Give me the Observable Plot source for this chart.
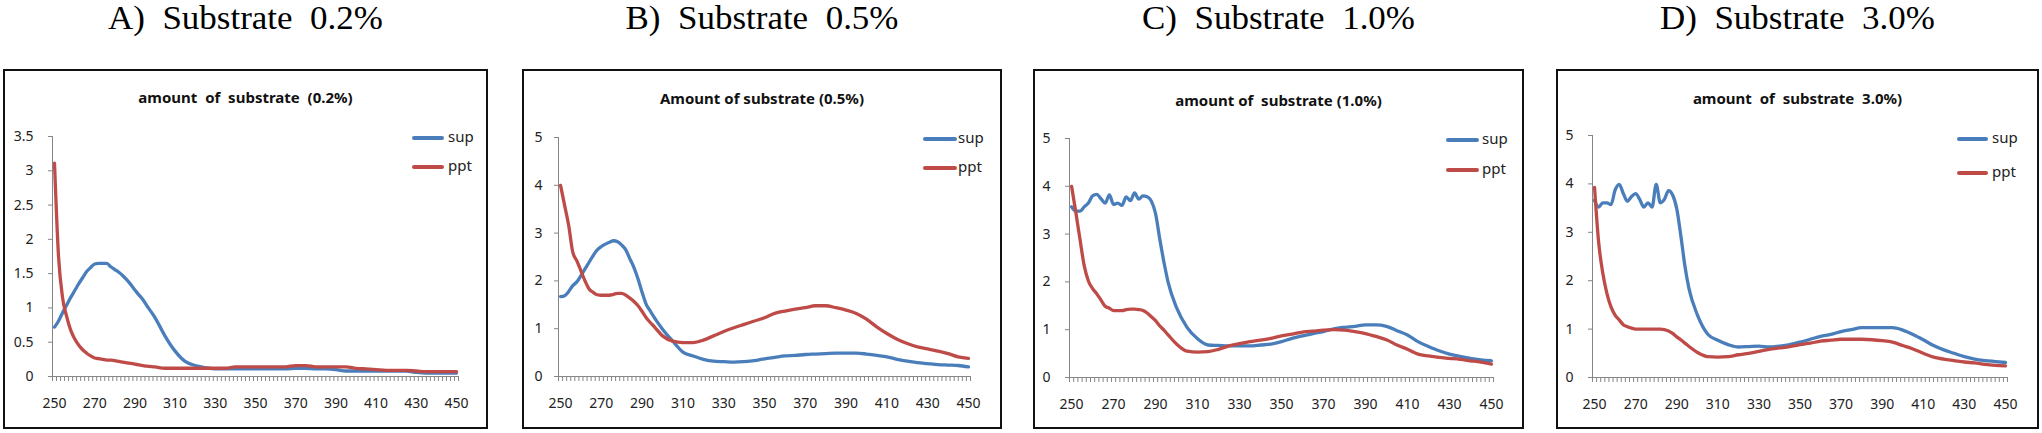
<!DOCTYPE html>
<html><head><meta charset="utf-8">
<script src="https://cdn.jsdelivr.net/npm/d3@7"></script>
<script src="https://cdn.jsdelivr.net/npm/@observablehq/plot@0.6"></script>
<style>
body{margin:0;background:#fff;}
#root{position:relative;width:2042px;height:433px;overflow:hidden;background:#fff;}
.title{position:absolute;top:0px;font-family:"Liberation Serif","Times New Roman",serif;font-size:33px;line-height:37px;text-align:center;white-space:pre;color:#000;transform:scaleX(1.06);transform-origin:50% 50%;}
.box{position:absolute;top:69px;height:360px;border:2px solid #111;box-sizing:border-box;pointer-events:none;}
.plotwrap{position:absolute;top:69px;}
.inner{position:absolute;font-family:"Noto Sans",sans-serif;font-weight:bold;font-size:15px;line-height:20px;text-align:center;white-space:pre;color:#111;}
.legline{position:absolute;height:4px;border-radius:2px;}
.legtxt{position:absolute;font-family:"Noto Sans",sans-serif;font-size:15px;line-height:20px;color:#222;}
</style></head>
<body><div id="root"></div>
<script>
// ---- data ----
const wavelengths = [250,252,254,256,258,260,262,264,266,268,270,272,274,276,278,280,282,284,286,288,290,292,294,296,
  300,305,310,315,320,325,330,335,340,345,350,355,360,365,370,375,380,385,390,395,400,405,410,415,420,425,430,435,440,445,450];
const seriesNames = ["sup","ppt"];
const panelTitles = ["A)  Substrate  0.2%","B)  Substrate  0.5%","C)  Substrate  1.0%","D)  Substrate  3.0%"];
const chartTitles = ["amount  of  substrate  (0.2%)","Amount of substrate (0.5%)","amount of  substrate (1.0%)","amount  of  substrate  3.0%)"];
const xTickLabels = [250,270,290,310,330,350,370,390,410,430,450];
const yTicksA = [0,0.5,1,1.5,2,2.5,3,3.5];
const yTicksBCD = [0,1,2,3,4,5];

const supA = [0.72,0.81,0.93,1.04,1.15,1.25,1.35,1.44,1.53,1.59,1.64,1.65,1.65,1.65,1.60,1.56,1.52,1.47,1.41,1.34,1.26,1.19,1.12,1.03,
  0.86,0.59,0.37,0.22,0.16,0.13,0.11,0.11,0.11,0.11,0.11,0.11,0.11,0.11,0.12,0.12,0.11,0.11,0.10,0.08,0.08,0.08,0.08,0.08,0.08,0.08,0.06,0.05,0.05,0.05,0.05];
const pptA = [3.11,1.75,1.15,0.88,0.68,0.55,0.46,0.39,0.34,0.30,0.27,0.26,0.25,0.24,0.24,0.23,0.22,0.21,0.20,0.19,0.18,0.17,0.16,0.15,
  0.14,0.12,0.12,0.12,0.12,0.12,0.12,0.12,0.14,0.14,0.14,0.14,0.14,0.14,0.16,0.16,0.14,0.14,0.14,0.14,0.12,0.11,0.10,0.09,0.09,0.09,0.08,0.07,0.07,0.07,0.07];
const supB = [1.67,1.69,1.78,1.90,1.98,2.11,2.25,2.39,2.53,2.65,2.72,2.77,2.81,2.84,2.82,2.75,2.65,2.46,2.28,2.04,1.76,1.51,1.37,1.23,
  0.99,0.74,0.51,0.43,0.36,0.32,0.31,0.30,0.31,0.33,0.37,0.40,0.43,0.44,0.46,0.47,0.48,0.49,0.49,0.49,0.47,0.44,0.41,0.36,0.32,0.29,0.27,0.25,0.24,0.23,0.20];
const pptB = [4.00,3.58,3.16,2.60,2.42,2.21,2.00,1.83,1.76,1.71,1.70,1.70,1.70,1.72,1.74,1.74,1.70,1.64,1.57,1.48,1.36,1.23,1.13,1.04,
  0.85,0.74,0.71,0.71,0.76,0.85,0.94,1.02,1.09,1.16,1.23,1.32,1.37,1.41,1.44,1.48,1.48,1.44,1.39,1.32,1.20,1.04,0.90,0.78,0.69,0.62,0.58,0.53,0.48,0.41,0.38];
const supC = [3.57,3.48,3.48,3.57,3.65,3.80,3.83,3.74,3.65,3.82,3.62,3.65,3.60,3.78,3.70,3.86,3.73,3.80,3.78,3.69,3.43,2.90,2.41,1.99,
  1.46,1.05,0.81,0.68,0.67,0.66,0.66,0.66,0.68,0.70,0.75,0.82,0.87,0.92,0.96,1.02,1.05,1.07,1.10,1.10,1.07,0.98,0.89,0.75,0.65,0.56,0.49,0.44,0.40,0.37,0.35];
const pptC = [4.00,3.46,2.89,2.34,2.02,1.86,1.75,1.62,1.49,1.45,1.40,1.40,1.40,1.42,1.43,1.43,1.42,1.40,1.35,1.27,1.19,1.08,0.99,0.89,
  0.70,0.55,0.53,0.54,0.59,0.66,0.71,0.75,0.78,0.82,0.87,0.91,0.95,0.97,0.99,1.00,0.99,0.96,0.92,0.86,0.79,0.68,0.59,0.49,0.45,0.42,0.40,0.38,0.35,0.32,0.28];
const supD = [3.66,3.52,3.61,3.61,3.57,3.87,3.99,3.80,3.64,3.74,3.80,3.68,3.52,3.61,3.52,3.99,3.61,3.68,3.86,3.77,3.49,2.93,2.30,1.83,
  1.30,0.90,0.77,0.68,0.63,0.64,0.65,0.63,0.65,0.68,0.73,0.79,0.85,0.89,0.95,0.99,1.03,1.03,1.03,1.03,0.98,0.89,0.78,0.66,0.57,0.50,0.43,0.38,0.35,0.33,0.31];
const pptD = [3.93,2.79,2.16,1.74,1.46,1.29,1.19,1.09,1.05,1.02,1.00,1.00,1.00,1.00,1.00,1.00,1.00,0.99,0.96,0.91,0.84,0.78,0.71,0.64,
  0.52,0.43,0.42,0.43,0.47,0.50,0.54,0.58,0.61,0.64,0.68,0.71,0.75,0.77,0.79,0.79,0.79,0.78,0.76,0.73,0.66,0.59,0.50,0.42,0.38,0.35,0.32,0.30,0.27,0.25,0.24];

// ---- layout / style (not data) ----
const colors = ["#4A7EBB","#BE4B48"];
const axisGrey = "#868686";
const panels = [
  {sup:supA, ppt:pptA, yMax:3.5, yTicks:yTicksA, left:3, width:485, ml:49, mr:30, mt:67, mb:53, ypad:15,
   innerTop:87, leg:{x:412,w:32,y:[138,167],tx:448}},
  {sup:supB, ppt:pptB, yMax:5, yTicks:yTicksBCD, left:522, width:480, ml:36, mr:32, mt:68, mb:53, ypad:12,
   innerTop:88, leg:{x:923,w:34,y:[139,168],tx:958}},
  {sup:supC, ppt:pptC, yMax:5, yTicks:yTicksBCD, left:1033, width:491, ml:36, mr:31, mt:69, mb:52, ypad:15,
   innerTop:90, leg:{x:1446,w:33,y:[140,170],tx:1482}},
  {sup:supD, ppt:pptD, yMax:5, yTicks:yTicksBCD, left:1556, width:483, ml:36, mr:32, mt:66, mb:52, ypad:15,
   innerTop:88, leg:{x:1957,w:31,y:[139,173],tx:1992}}
];

const root = document.getElementById("root");
panels.forEach((p, i) => {
  const rows = [];
  wavelengths.forEach((w, k) => { rows.push({w, v: p.sup[k], s: seriesNames[0]}); });
  wavelengths.forEach((w, k) => { rows.push({w, v: p.ppt[k], s: seriesNames[1]}); });
  const chart = Plot.plot({
    width: p.width, height: 360,
    marginLeft: p.ml, marginRight: p.mr, marginTop: p.mt, marginBottom: p.mb,
    style: {fontFamily: "'Noto Sans', sans-serif", fontSize: "14px", background: "transparent", overflow: "visible"},
    x: {domain: [249, 451], axis: null, label: null},
    y: {domain: [0, p.yMax], axis: null, label: null},
    color: {domain: seriesNames, range: colors},
    marks: [
      Plot.axisY(p.yTicks, {tickSize: 4, tickPadding: p.ypad, stroke: axisGrey, fill: "#222", fontSize: 14, label: null, tickFormat: d => String(d)}),
      Plot.axisX(d3.range(249, 452, 2), {tickSize: 5, stroke: axisGrey, text: null, label: null}),
      Plot.axisX(xTickLabels, {tickSize: 0, tickPadding: 22, fill: "#222", fontSize: 14, label: null}),
      Plot.ruleX([249], {stroke: axisGrey}),
      Plot.ruleY([0], {stroke: axisGrey}),
      Plot.line(rows, {x: "w", y: "v", z: "s", stroke: "s", strokeWidth: 3.3, curve: "monotone-x", strokeLinejoin: "round"})
    ]
  });
  const wrap = document.createElement("div");
  wrap.className = "plotwrap";
  wrap.style.left = p.left + "px";
  wrap.appendChild(chart);
  root.appendChild(wrap);

  const box = document.createElement("div");
  box.className = "box";
  box.style.left = p.left + "px";
  box.style.width = p.width + "px";
  root.appendChild(box);

  const t = document.createElement("div");
  t.className = "title";
  t.style.left = p.left + "px";
  t.style.width = p.width + "px";
  t.textContent = panelTitles[i];
  root.appendChild(t);

  const it = document.createElement("div");
  it.className = "inner";
  it.style.left = p.left + "px";
  it.style.width = p.width + "px";
  it.style.top = p.innerTop + "px";
  it.textContent = chartTitles[i];
  root.appendChild(it);

  seriesNames.forEach((s, j) => {
    const l = document.createElement("div");
    l.className = "legline";
    l.style.left = p.leg.x + "px";
    l.style.width = p.leg.w + "px";
    l.style.top = (p.leg.y[j] - 2) + "px";
    l.style.background = colors[j];
    root.appendChild(l);
    const tx = document.createElement("div");
    tx.className = "legtxt";
    tx.style.left = p.leg.tx + "px";
    tx.style.top = (p.leg.y[j] - 12) + "px";
    tx.textContent = s;
    root.appendChild(tx);
  });
});
</script>
</body></html>
